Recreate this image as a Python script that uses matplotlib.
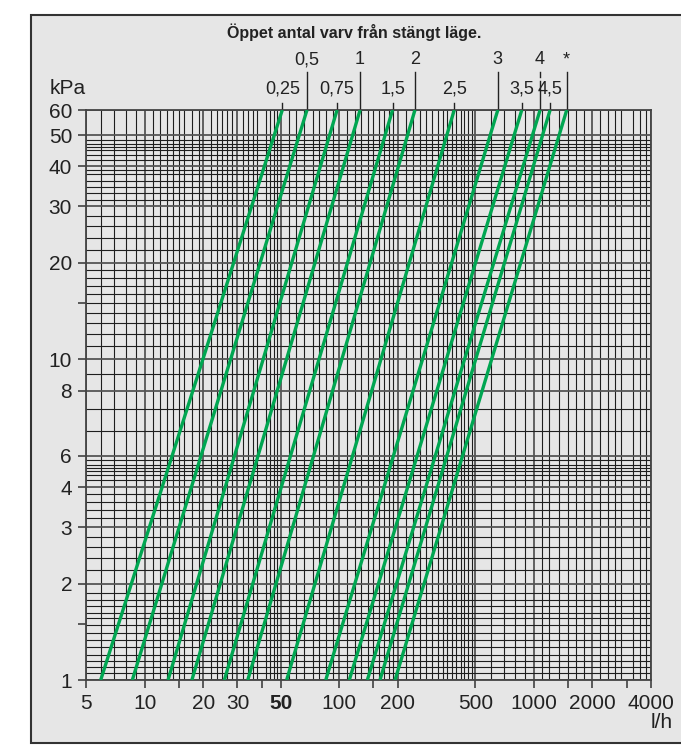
import numpy as np
import matplotlib
matplotlib.use('Agg')
import matplotlib.pyplot as plt
from matplotlib.patches import Rectangle
from matplotlib.ticker import NullFormatter
from matplotlib.transforms import blended_transform_factory

plt.rcParams['font.family'] = ['Liberation Sans', 'DejaVu Sans']

# open turns from closed position, flow (l/h) at 1 kPa and at 60 kPa
settings = ['0,25', '0,5', '0,75', '1', '1,5', '2', '2,5', '3', '3,5', '4', '4,5', '*']
flow_1kpa = [5.95, 8.65, 13.2, 17.5, 25.7, 33.9, 53.7, 85.3, 112.7, 139.5, 162, 193.6]
flow_60kpa = [51, 68.3, 97.5, 128, 188, 245, 390, 653, 867, 1077, 1212, 1476]
upper_row = ['0,5', '1', '2', '3', '4', '*']
dp_ends = [1, 60]

xticks = [5, 10, 20, 30, 50, 100, 200, 500, 1000, 2000, 4000]
xticks_minor = [15, 40, 150, 1500, 3000]
yticks = [1, 2, 3, 4, 5, 8, 10, 20, 30, 40, 50, 60]
ytick_labels = ['1', '2', '3', '4', '6', '8', '10', '20', '30', '40', '50', '60']
yticks_minor = [1.5, 15]

# lines of the log paper
xgrid = ([6, 7, 8, 9, 11, 12, 13, 14, 15, 16, 17.5, 19,
          22, 23.5, 25, 26.5, 28, 32, 34, 36, 38, 42, 44, 46, 48,
          55, 60, 66, 73, 79, 86, 93]
         + list(range(110, 200, 10)) + list(range(220, 500, 20))
         + list(range(600, 1000, 100))
         + [1100, 1200, 1350, 1500, 1650, 1800, 2200, 2400, 2600, 2800,
            3250, 3500, 3750])
ygrid = [1.05, 1.1, 1.15, 1.2, 1.27, 1.33, 1.4, 1.48, 1.56, 1.62, 1.7, 1.78, 1.87,
         2.2, 2.4, 2.6, 2.8, 3.2, 3.4, 3.6, 3.8,
         4.2, 4.35, 4.5, 4.6, 4.7, 4.85, 6, 7, 9,
         11, 12, 13, 14, 15, 16, 17, 18, 19,
         22, 24, 26, 28, 31.5, 33, 34.5, 36, 38, 39,
         42, 43.5, 45, 46, 47, 48.5]

W, H = 681, 745
fig = plt.figure(figsize=(W / 100, H / 100), dpi=100)
fig.patch.set_facecolor('white')
fig.patches.append(Rectangle((31 / W, 2 / H), 1.0, 728 / H, transform=fig.transFigure,
                             facecolor='#e6e6e6', edgecolor='#333333', lw=1.5, zorder=-10))

ax = fig.add_axes([86 / W, 65 / H, 565 / W, 570 / H])
ax.set_facecolor('#e6e6e6')
ax.set_xscale('log')
ax.set_yscale('log')
ax.set_xlim(5, 4000)
ax.set_ylim(1, 60)

for v in xgrid:
    ax.axvline(v, color='#1e1e1e', lw=0.8, zorder=1)
for v in xticks:
    ax.axvline(v, color='#555555', lw=1.3, zorder=1)
for v in ygrid:
    ax.axhline(v, color='#1e1e1e', lw=0.8, zorder=1)
for v in yticks:
    ax.axhline(v, color='#555555', lw=1.3, zorder=1)

for s in ax.spines.values():
    s.set_color('#444444')
    s.set_linewidth(1.3)

ax.set_xticks(xticks, [str(v) for v in xticks])
ax.set_xticks(xticks_minor, minor=True)
ax.set_yticks(yticks, ytick_labels)
ax.set_yticks(yticks_minor, minor=True)
ax.xaxis.set_minor_formatter(NullFormatter())
ax.yaxis.set_minor_formatter(NullFormatter())
ax.tick_params(which='both', direction='out', length=5.5, width=1.1, color='#333333',
               labelsize=15, labelcolor='#222222', pad=4.5)
for lab in ax.get_xticklabels():
    if lab.get_text() == '50':
        lab.set_fontweight('bold')

# valve setting curves
for q1, q60 in zip(flow_1kpa, flow_60kpa):
    ax.plot([q1, q60], dp_ends, color='#00a651', lw=2.4, solid_capstyle='butt', zorder=3)

# setting markers above the grid
trans = blended_transform_factory(ax.transData, ax.transAxes)
for s, q in zip(settings, flow_60kpa):
    if s in upper_row:
        if s == '4':
            ax.plot([q, q], [1, 1 + 29 / 570], transform=trans, clip_on=False, color='#222222', lw=1)
            ax.plot([q, q], [1 + 33 / 570, 1 + 38 / 570], transform=trans, clip_on=False, color='#222222', lw=1)
        else:
            ax.plot([q, q], [1, 1 + 38 / 570], transform=trans, clip_on=False, color='#222222', lw=1)
        ax.text(q, 1 + 50 / 570, s, transform=trans, ha='center', va='center', fontsize=13, color='#222222')
    else:
        ax.plot([q, q], [1, 1 + 7.5 / 570], transform=trans, clip_on=False, color='#222222', lw=1)
        ax.text(q, 1 + 21 / 570, s, transform=trans, ha='center', va='center', fontsize=13, color='#222222')

fig.text(354 / W, 1 - 32 / H, 'Öppet antal varv från stängt läge.', ha='center', va='center',
         fontsize=11.5, fontweight='bold', color='#222222')
fig.text(68 / W, 1 - 88 / H, 'kPa', ha='center', va='center', fontsize=15, color='#222222')
fig.text(662 / W, 1 - 723 / H, 'l/h', ha='center', va='center', fontsize=15, color='#222222')

fig.savefig('out.png', dpi=100)
